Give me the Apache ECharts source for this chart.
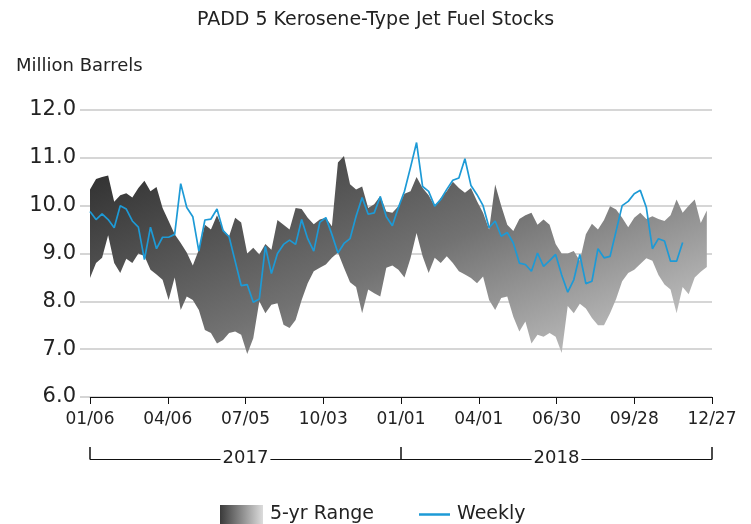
<!DOCTYPE html>
<html>
<head>
<meta charset="utf-8">
<script src="https://cdn.jsdelivr.net/npm/echarts@6/dist/echarts.min.js"></script>
<style>
  html, body { margin: 0; padding: 0; background: #fff; }
  #chart { width: 751px; height: 524px; }
</style>
</head>
<body>
<div id="chart"></div>
<script>
// x is days since 01/06/2017, one point per week
var tickLabels = ['01/06', '04/06', '07/05', '10/03', '01/01', '04/01', '06/30', '09/28', '12/27'];
var years = ['2017', '2018'];

var weekly = [
  9.88, 9.71, 9.83, 9.71, 9.54, 10.0, 9.93, 9.68, 9.55, 8.87,
  9.55, 9.10, 9.34, 9.34, 9.40, 10.46, 9.96, 9.77, 9.05, 9.70,
  9.72, 9.93, 9.48, 9.35, 8.84, 8.33, 8.35, 7.98, 8.05, 9.15,
  8.58, 9.00, 9.19, 9.28, 9.19, 9.71, 9.31, 9.05, 9.65, 9.75,
  9.40, 9.01, 9.21, 9.31, 9.78, 10.17, 9.82, 9.85, 10.19, 9.77,
  9.58, 9.96, 10.30, 10.80, 11.32, 10.40, 10.30, 9.99, 10.13, 10.34,
  10.53, 10.58, 10.98, 10.42, 10.23, 10.0, 9.54, 9.68, 9.36, 9.44,
  9.22, 8.80, 8.77, 8.63, 9.01, 8.73, 8.85, 8.98, 8.55, 8.19,
  8.45, 8.98, 8.37, 8.42, 9.10, 8.91, 8.94, 9.47, 10.0, 10.09,
  10.25, 10.32, 9.96, 9.10, 9.31, 9.26, 8.84, 8.84, 9.23
];

var rangeMax = [
  10.34, 10.56, 10.60, 10.63, 10.08, 10.22, 10.26, 10.17, 10.37, 10.52,
  10.30, 10.39, 9.95, 9.68, 9.40, 9.22, 9.02, 8.75, 9.08, 9.60,
  9.50, 9.80, 9.50, 9.36, 9.75, 9.65, 9.00, 9.12, 8.98, 9.20,
  9.08, 9.70, 9.60, 9.50, 9.95, 9.93, 9.75, 9.61, 9.71, 9.75,
  9.57, 10.90, 11.04, 10.45, 10.34, 10.40, 9.95, 10.03, 10.20, 9.88,
  9.85, 9.99, 10.25, 10.30, 10.60, 10.37, 10.22, 9.99, 10.16, 10.30,
  10.50, 10.37, 10.27, 10.37, 10.09, 9.85, 9.50, 10.44, 10.0, 9.60,
  9.47, 9.72, 9.80, 9.85, 9.60, 9.71, 9.60, 9.20, 9.00, 9.00,
  9.05, 8.85, 9.40, 9.62, 9.50, 9.70, 9.99, 9.92, 9.75, 9.55,
  9.75, 9.85, 9.72, 9.78, 9.72, 9.68, 9.80, 10.13, 9.85, 10.0,
  10.13, 9.64, 9.90
];

var rangeMin = [
  8.49, 8.80, 8.91, 9.38, 8.80, 8.59, 8.89, 8.80, 9.00, 8.95,
  8.66, 8.56, 8.45, 8.03, 8.50, 7.82, 8.10, 8.03, 7.82, 7.40,
  7.34, 7.12, 7.19, 7.34, 7.37, 7.30, 6.90, 7.23, 8.00, 7.75,
  7.93, 7.96, 7.51, 7.44, 7.61, 8.03, 8.38, 8.63, 8.70, 8.77,
  8.91, 9.02, 8.70, 8.40, 8.30, 7.75, 8.25, 8.17, 8.10, 8.70,
  8.75, 8.66, 8.50, 8.90, 9.43, 8.94, 8.59, 8.91, 8.80, 8.94,
  8.80, 8.63, 8.56, 8.49, 8.38, 8.52, 8.03, 7.82, 8.07, 8.10,
  7.68, 7.37, 7.58, 7.12, 7.30, 7.26, 7.34, 7.26, 6.92, 7.90,
  7.75, 7.95, 7.85, 7.65, 7.50, 7.50, 7.75, 8.05, 8.42, 8.59,
  8.66, 8.78, 8.90, 8.85, 8.55, 8.35, 8.25, 7.75, 8.30, 8.15,
  8.50, 8.62, 8.72
];

var chart = echarts.init(document.getElementById('chart'));

var bandFill = new echarts.graphic.LinearGradient(0, 0, 0.26, 2.0, [
  { offset: 0, color: '#2c2c2c' },
  { offset: 0.5, color: '#727272' },
  { offset: 1, color: '#d8d8d8' }
]);
var legendFill = new echarts.graphic.LinearGradient(0, 0, 1, 0, [
  { offset: 0, color: '#3a3a3a' },
  { offset: 1, color: '#dcdcdc' }
]);

// whole band drawn as one polygon so the gradient runs across it
function renderBand(params, api) {
  if (params.dataIndex !== 0) return null;
  var pts = [], low = [];
  for (var i = 0; i < rangeMax.length; i++) {
    pts.push(api.coord([i * 7, rangeMax[i]]));
    low.unshift(api.coord([i * 7, rangeMin[i]]));
  }
  return {
    type: 'polygon',
    shape: { points: pts.concat(low) },
    style: { fill: bandFill }
  };
}

var font = 'DejaVu Sans, sans-serif';
var ink = '#222';

var option = {
  animation: false,
  textStyle: { fontFamily: font },
  title: [
    {
      text: 'PADD 5 Kerosene-Type Jet Fuel Stocks',
      left: 'center', top: 6,
      textStyle: { fontSize: 19, fontWeight: 'normal', color: ink, fontFamily: font }
    },
    {
      text: 'Million Barrels',
      left: 11, top: 52,
      textStyle: { fontSize: 18, fontWeight: 'normal', color: ink, fontFamily: font }
    }
  ],
  legend: [
    {
      left: 215, top: 500,
      itemWidth: 43, itemHeight: 19, itemGap: 0,
      textStyle: { fontSize: 19, color: ink, fontFamily: font, padding: [0, 0, 0, 2] },
      data: [{ name: '5-yr Range', icon: 'rect', itemStyle: { color: legendFill } }]
    },
    {
      left: 414, top: 500,
      itemWidth: 31, itemHeight: 2.5,
      textStyle: { fontSize: 19, color: ink, fontFamily: font, padding: [0, 0, 0, 2] },
      data: [{ name: 'Weekly', icon: 'rect', itemStyle: { color: '#1d9ad6' } }]
    }
  ],
  grid: { left: 90, right: 39, top: 110, bottom: 127 },
  xAxis: [
    {
      type: 'value', min: 0, max: 720, interval: 90,
      axisLine: { lineStyle: { color: '#111', width: 1 } },
      axisTick: { show: true, length: 7, lineStyle: { color: '#111' } },
      splitLine: { show: false },
      axisLabel: {
        margin: 14, fontSize: 17, color: ink, fontFamily: font,
        formatter: function (v) { return tickLabels[Math.round(v / 90)]; }
      }
    },
    {
      type: 'category', data: years, position: 'bottom', offset: 62,
      boundaryGap: true,
      axisLine: { show: true, lineStyle: { color: '#111', width: 1 } },
      axisTick: {
        show: true, inside: true, interval: 0, alignWithLabel: false,
        length: 12, lineStyle: { color: '#111', width: 1.5 }
      },
      axisLabel: {
        show: true, interval: 0, margin: -10, fontSize: 18, color: ink, fontFamily: font,
        backgroundColor: '#fff', padding: [0, 2]
      }
    }
  ],
  yAxis: {
    type: 'value', min: 6, max: 12, interval: 1,
    axisLine: { show: false },
    axisTick: { show: true, length: 10, lineStyle: { color: '#c8c8c8', width: 1.5 } },
    splitLine: { lineStyle: { color: '#c8c8c8', width: 1.5 } },
    axisLabel: {
      margin: 14, fontSize: 21, color: ink, fontFamily: font,
      formatter: function (v) { return v.toFixed(1); }
    }
  },
  series: [
    {
      name: '5-yr Range',
      type: 'custom',
      renderItem: renderBand,
      itemStyle: { color: legendFill },
      encode: { x: 0, y: [1, 2] },
      data: rangeMax.map(function (v, i) { return [i * 7, rangeMin[i], v]; }),
      z: 1
    },
    {
      name: 'Weekly',
      type: 'line',
      showSymbol: false,
      symbol: 'none',
      lineStyle: { color: '#1d9ad6', width: 1.7 },
      itemStyle: { color: '#1d9ad6' },
      data: weekly.map(function (v, i) { return [i * 7, v]; }),
      z: 3
    }
  ]
};

chart.setOption(option);
</script>
</body>
</html>
